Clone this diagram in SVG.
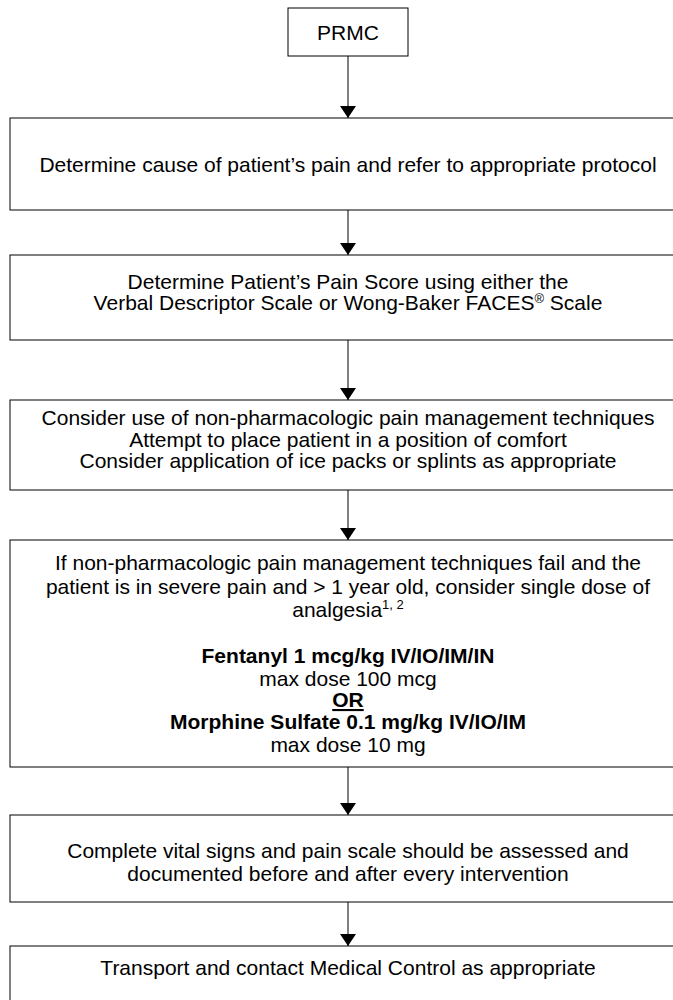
<svg xmlns="http://www.w3.org/2000/svg" width="673" height="1000" viewBox="0 0 673 1000">
<style>
.box{fill:#fff;stroke:#000;stroke-width:1}
.t{font-family:"Liberation Sans",Arial,sans-serif;font-size:21px;fill:#000;text-anchor:middle}
.b{font-weight:bold}
.c{stroke:#000;stroke-width:1;fill:none}
.sup{font-size:13px}
</style>
<defs>
<marker id="ah" markerWidth="12" markerHeight="16" refX="12" refY="8" orient="auto" markerUnits="userSpaceOnUse">
<path d="M0,0 L12,8 L0,16 Z" fill="#000"/>
</marker>
</defs>
<rect width="673" height="1000" fill="#fff"/>
<g id="connectors">
<line class="c" x1="348" y1="56" x2="348" y2="118" marker-end="url(#ah)"/>
<line class="c" x1="348" y1="210" x2="348" y2="255" marker-end="url(#ah)"/>
<line class="c" x1="348" y1="340" x2="348" y2="400" marker-end="url(#ah)"/>
<line class="c" x1="348" y1="490" x2="348" y2="540" marker-end="url(#ah)"/>
<line class="c" x1="348" y1="767" x2="348" y2="815" marker-end="url(#ah)"/>
<line class="c" x1="348" y1="902" x2="348" y2="946" marker-end="url(#ah)"/>
</g>
<g id="n1">
<rect class="box" x="288" y="8" width="120" height="48"/>
<text class="t" x="348" y="40">PRMC</text>
</g>
<g id="n2">
<rect class="box" x="10" y="118" width="680" height="92"/>
<text class="t" x="348" y="172">Determine cause of patient’s pain and refer to appropriate protocol</text>
</g>
<g id="n3">
<rect class="box" x="10" y="255" width="680" height="85"/>
<text class="t" x="348" y="289">Determine Patient’s Pain Score using either the</text>
<text class="t" x="348" y="310">Verbal Descriptor Scale or Wong-Baker FACES<tspan class="sup" dy="-7">®</tspan><tspan dy="7">  Scale</tspan></text>
</g>
<g id="n4">
<rect class="box" x="10" y="400" width="680" height="90"/>
<text class="t" x="348" y="425">Consider use of non-pharmacologic pain management techniques</text>
<text class="t" x="348" y="447">Attempt to place patient in a position of comfort</text>
<text class="t" x="348" y="468">Consider application of ice packs or splints as appropriate</text>
</g>
<g id="n5">
<rect class="box" x="10" y="540" width="680" height="227"/>
<text class="t" x="348" y="570">If non-pharmacologic pain management techniques fail and the</text>
<text class="t" x="348" y="594">patient is in severe pain and &gt; 1 year old, consider single dose of</text>
<text class="t" x="348" y="617">analgesia<tspan class="sup" dy="-8">1, 2</tspan></text>
<text class="t b" x="348" y="663">Fentanyl 1 mcg/kg IV/IO/IM/IN</text>
<text class="t" x="348" y="686">max dose 100 mcg</text>
<text class="t b" x="348" y="707" text-decoration="underline">OR</text>
<text class="t b" x="348" y="729">Morphine Sulfate 0.1 mg/kg IV/IO/IM</text>
<text class="t" x="348" y="752">max dose 10 mg</text>
</g>
<g id="n6">
<rect class="box" x="10" y="815" width="680" height="87"/>
<text class="t" x="348" y="858">Complete vital signs and pain scale should be assessed and</text>
<text class="t" x="348" y="881">documented before and after every intervention</text>
</g>
<g id="n7">
<rect class="box" x="10" y="946" width="680" height="80"/>
<text class="t" x="348" y="975">Transport and contact Medical Control as appropriate</text>
</g>
</svg>
